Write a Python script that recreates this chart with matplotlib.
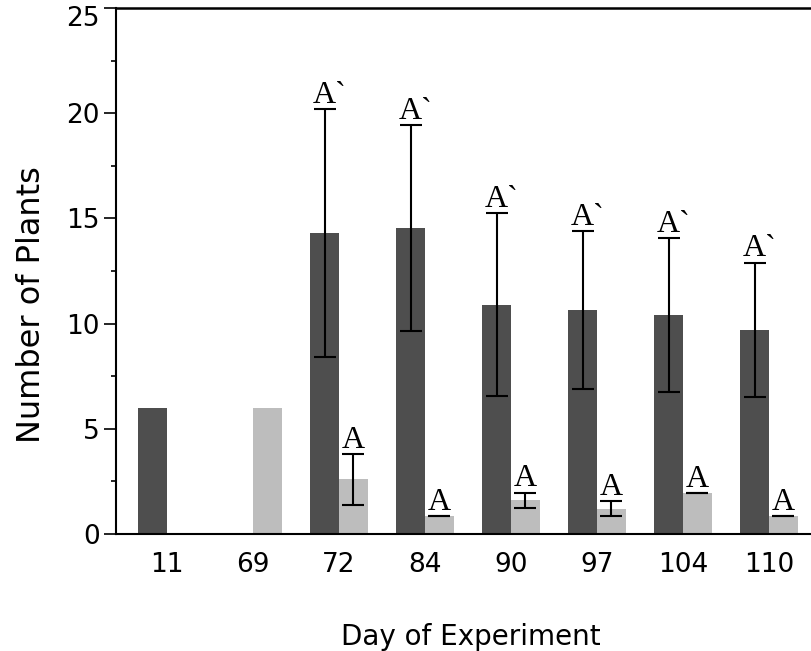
import matplotlib
matplotlib.use("Agg")
import matplotlib.pyplot as plt
import matplotlib.transforms as mtrans
import numpy as np
from matplotlib.ticker import MultipleLocator

# 数据
days = ["11", "69", "72", "84", "90", "97", "104", "110"]
dark_mean = [6.0, np.nan, 14.3, 14.55, 10.9, 10.65, 10.4, 9.7]
dark_err = [np.nan, np.nan, 5.9, 4.9, 4.35, 3.75, 3.65, 3.2]
light_mean = [np.nan, 6.0, 2.6, 0.85, 1.6, 1.2, 1.95, 0.85]
light_err = [np.nan, np.nan, 1.2, 0.0, 0.37, 0.35, 0.0, 0.0]
dark_tags = ["", "", "A`", "A`", "A`", "A`", "A`", "A`"]
light_tags = ["", "", "A", "A", "A", "A", "A", "A"]

dark_color = "#4e4e4e"
light_color = "#bdbdbd"
bar_w = 1 / 3

plt.rcParams['font.family'] = ['DejaVu Sans']

fig = plt.figure(figsize=(8.11, 6.51), dpi=100)
ax = fig.add_axes([116 / 811, 1 - 534 / 651, 1 - 116 / 811, (534 - 8) / 651])

x = np.arange(len(days))
xd = x - bar_w / 2
xl = x + bar_w / 2

ax.bar(xd, dark_mean, width=bar_w, color=dark_color, linewidth=0)
ax.bar(xl, light_mean, width=bar_w, color=light_color, linewidth=0)

# 误差线
ekw = dict(fmt='none', ecolor='black', elinewidth=1.5, capsize=8, capthick=1.5)
ax.errorbar(xd, dark_mean, yerr=dark_err, **ekw)
ax.errorbar(xl, light_mean, yerr=light_err, **ekw)

# 显著性字母
tag_font = dict(family='Liberation Serif', size=23, color='black')
for xs, means, errs, tags in [(xd, dark_mean, dark_err, dark_tags),
                              (xl, light_mean, light_err, light_tags)]:
    for xi, m, e, t in zip(xs, means, errs, tags):
        if not t:
            continue
        top = m + (e if not np.isnan(e) else 0)
        ax.annotate(t, xy=(xi, top), xytext=(-8.3, 4.5), textcoords='offset points',
                    ha='left', va='baseline', **tag_font)

ax.set_xlim(-0.593, 7.488)
ax.set_ylim(0, 25)
ax.set_xticks(x)
ax.set_xticklabels(days)
ax.yaxis.set_major_locator(MultipleLocator(5))
ax.yaxis.set_minor_locator(MultipleLocator(2.5))

ax.tick_params(axis='x', length=0, pad=13, labelsize=19)
ax.tick_params(axis='y', which='major', length=8.6, width=1.2, pad=3, labelsize=19)
ax.tick_params(axis='y', which='minor', length=3.6, width=1.2)

for side in ['left', 'bottom']:
    ax.spines[side].set_linewidth(1.5)
ax.spines['top'].set_linewidth(1.8)
ax.spines['right'].set_visible(False)

ax.set_xlabel("Day of Experiment", fontsize=20, va='baseline')
ax.xaxis.set_label_coords((471 - 116) / 695, (534 - 645) / 526)
ax.set_ylabel("Number of Plants", fontsize=23, va='baseline')
ax.yaxis.set_label_coords((40 - 116) / 695, (534 - 305) / 526)

# 顶部的 25 往下挪一点, 和原图一样不被裁掉
fig.canvas.draw()
for lbl in ax.get_yticklabels():
    if lbl.get_text() == "25":
        lbl.set_transform(lbl.get_transform() + mtrans.ScaledTranslation(0, -6 / 72, fig.dpi_scale_trans))

fig.savefig("out.png", dpi=100)
